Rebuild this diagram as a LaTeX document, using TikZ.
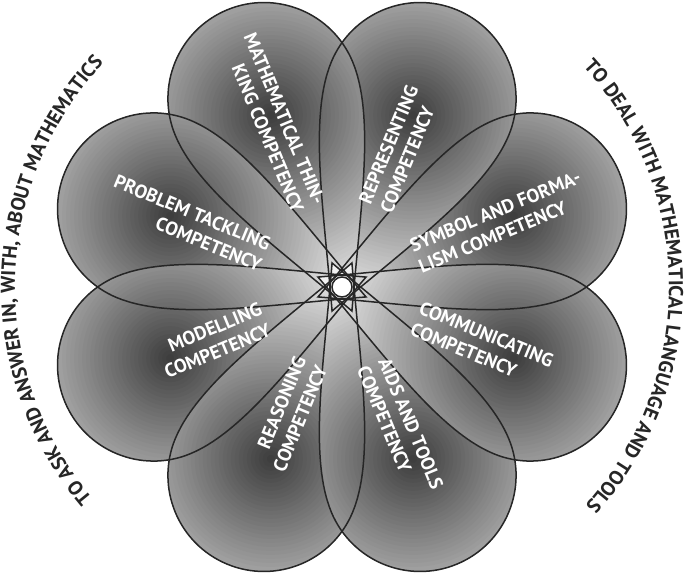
\documentclass[tikz,border=0pt]{standalone}
\usepackage{fontspec}
\newfontfamily\lblfamily{PT Sans}
\usetikzlibrary{calc,decorations.text}
\newcommand\lblfont{\lblfamily\bfseries\fontsize{19}{23}\selectfont}
\newcommand\arcfont{\lblfamily\bfseries\fontsize{20}{22}\selectfont}
\def\petalpath{(-26,0) .. controls (64,46) and (144,96) .. (204,96) .. controls (257,96) and (300,53) .. (300,0) .. controls (300,-53) and (257,-96) .. (204,-96) .. controls (144,-96) and (64,-46) .. (-26,0) -- cycle}
\begin{document}
\begin{tikzpicture}[x=1pt,y=1pt,
  petalline/.style={draw=black!85, line width=1.5pt},
  inlbl/.style={text=white, font=\lblfont, inner sep=0pt, anchor=east, align=right},
  outlbl/.style={text=white, font=\lblfont, inner sep=0pt, anchor=west, align=left},
  arctext/.style={decorate, decoration={text along path, text align=center}}]
\useasboundingbox (0,0) rectangle (685,573);
\fill[white] (0,0) rectangle (685,573);
\coordinate (C) at (342,286);
% petal fills (stepped radial gradient)
\foreach \a in {22.5,67.5,...,337.5}{
  \begin{scope}[shift={(C)}, rotate=\a]
    \clip \petalpath;
    \foreach \r in {240,236,...,4}{
      \pgfmathsetmacro\p{max(77-0.35*\r,5)}
      \fill[black!\p] (186,0) circle (\r);
    }
  \end{scope}
}
% petal outlines
\foreach \a in {22.5,67.5,...,337.5}{
  \draw[petalline, shift={(C)}, rotate=\a] \petalpath;
}
\node[circle, draw=black!85, fill=white, line width=1.5pt, minimum size=20pt, inner sep=0pt] (hub) at (C) {};
% labels
\node[inlbl, rotate=-67.5] (math) at ($(C)+(112.5:86)$) {MATHEMATICAL THIN-\\KING COMPETENCY};
\node[outlbl, rotate=67.5] (repr) at ($(C)+(67.5:86)$) {REPRESENTING\\COMPETENCY};
\node[outlbl, rotate=22.5] (symb) at ($(C)+(22.5:79)$) {SYMBOL AND FORMA-\\LISM COMPETENCY};
\node[outlbl, rotate=-22.5] (comm) at ($(C)+(-22.5:80)$) {COMMUNICATING\\COMPETENCY};
\node[outlbl, rotate=-67.5] (aids) at ($(C)+(-67.5:82)$) {AIDS AND TOOLS\\COMPETENCY};
\node[inlbl, rotate=67.5] (reas) at ($(C)+(-112.5:81)$) {REASONING\\COMPETENCY};
\node[inlbl, rotate=22.5] (mode) at ($(C)+(-157.5:83)$) {MODELLING\\COMPETENCY};
\node[inlbl, rotate=-22.5] (prob) at ($(C)+(157.5:83)$) {PROBLEM TACKLING\\COMPETENCY};
% arc texts
\path[arctext, decoration={text={|\arcfont\color{black!85}|TO ASK AND ANSWER IN{,} WITH{,} ABOUT MATHEMATICS}}]
  ($(C)+(224:327)$) arc[start angle=224, end angle=133, radius=327pt];
\path[arctext, decoration={text={|\arcfont\color{black!85}|TO DEAL WITH MATHEMATICAL LANGUAGE AND TOOLS}}]
  ($(C)+(45.5:327)$) arc[start angle=45.5, end angle=-45, radius=327pt];
\end{tikzpicture}
\end{document}
